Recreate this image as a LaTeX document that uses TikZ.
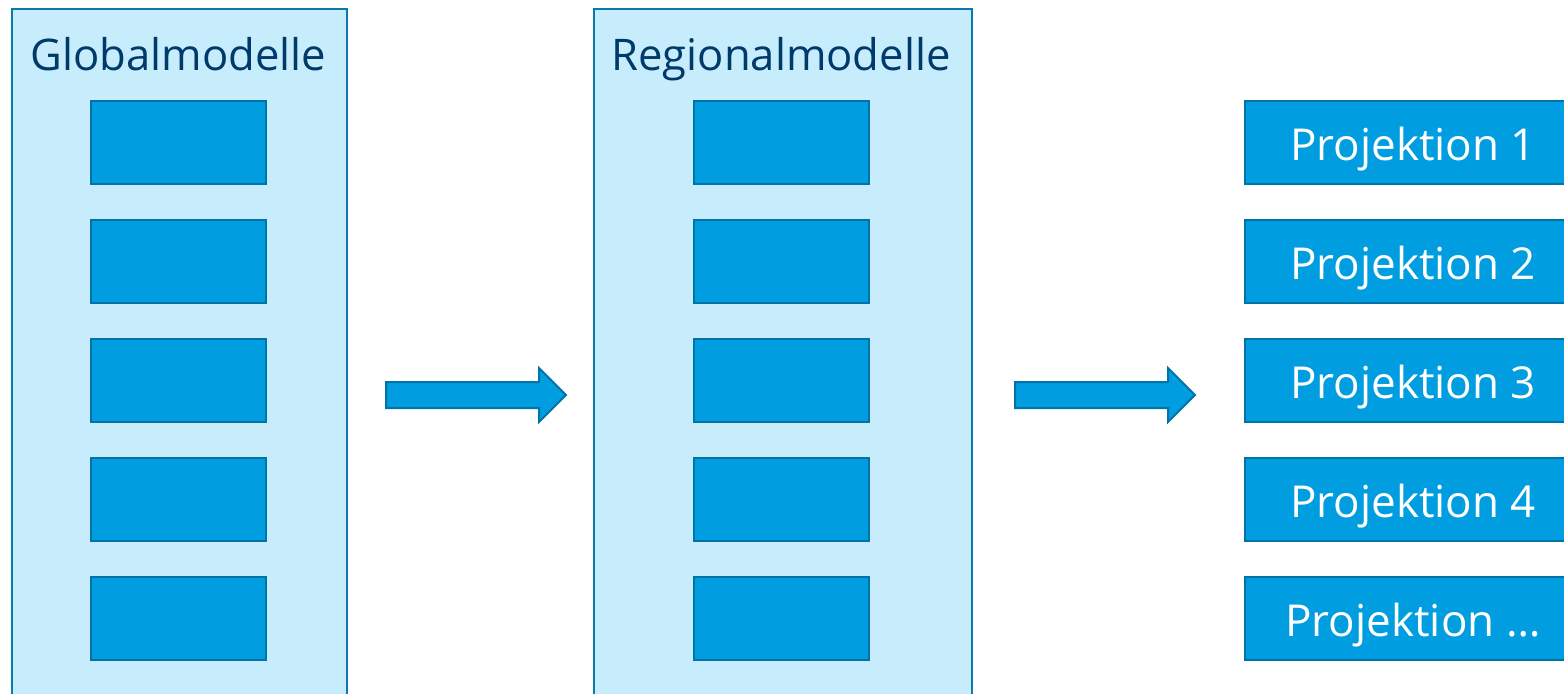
\documentclass[tikz,border=0pt]{standalone}
\usepackage{fontspec}
\setmainfont{Open Sans}
\usetikzlibrary{shapes.arrows, positioning}
\definecolor{panelfill}{HTML}{C7EDFC}
\definecolor{paneldraw}{HTML}{0A7AAD}
\definecolor{boxfill}{HTML}{009EE0}
\definecolor{boxdraw}{HTML}{0074A6}
\definecolor{titletext}{HTML}{003A6B}

\begin{document}
\begin{tikzpicture}[
  x=0.5pt, y=-0.5pt,
  panel/.style={draw=paneldraw, fill=panelfill, line width=1pt, minimum height=400pt, anchor=north west, inner sep=0pt},
  title/.style={text=titletext, font=\fontsize{21.8}{26}\selectfont, anchor=base},
  model/.style={draw=boxdraw, fill=boxfill, line width=1pt, minimum width=87.5pt, minimum height=41.5pt, inner sep=0pt},
  proj/.style={model, minimum width=168pt, anchor=west, text=white, text height=17.5pt, text depth=0pt, font=\fontsize{22}{26}\selectfont},
  flow/.style={single arrow, draw=boxdraw, fill=boxfill, line width=1pt, single arrow head extend=7pt, single arrow tip angle=90, inner xsep=0pt, inner ysep=6pt, minimum height=90pt, minimum width=0pt, anchor=west}
]
  \useasboundingbox (0,0) rectangle (1564,693);
  \clip (0,0) rectangle (1564,693);

  % the two model panels
  \node[panel, minimum width=167.5pt] (global) at (11,8) {};
  \node[panel, minimum width=189pt] (regional) at (593,8) {};
  \node[title] (globaltitle) at (178.5,70) {Globalmodelle};
  \node[title] (regionaltitle) at (781,70) {Regionalmodelle};

  % model boxes and projections
  \foreach \i in {1,...,5} {
    \node[model] (glob\i) at (178.5, 23.5+119*\i) {};
    \node[model] (reg\i) at (781.5, 23.5+119*\i) {};
  }
  \foreach \i/\t in {1/1, 2/2, 3/3, 4/4, 5/{…}}
    \node[proj] (proj\i) at (1244, 23.5+119*\i) {Projektion \t};

  % flow arrows
  \node[flow] (arrow1) at (385,395) {};
  \node[flow] (arrow2) at (1014,395) {};

\end{tikzpicture}
\end{document}
